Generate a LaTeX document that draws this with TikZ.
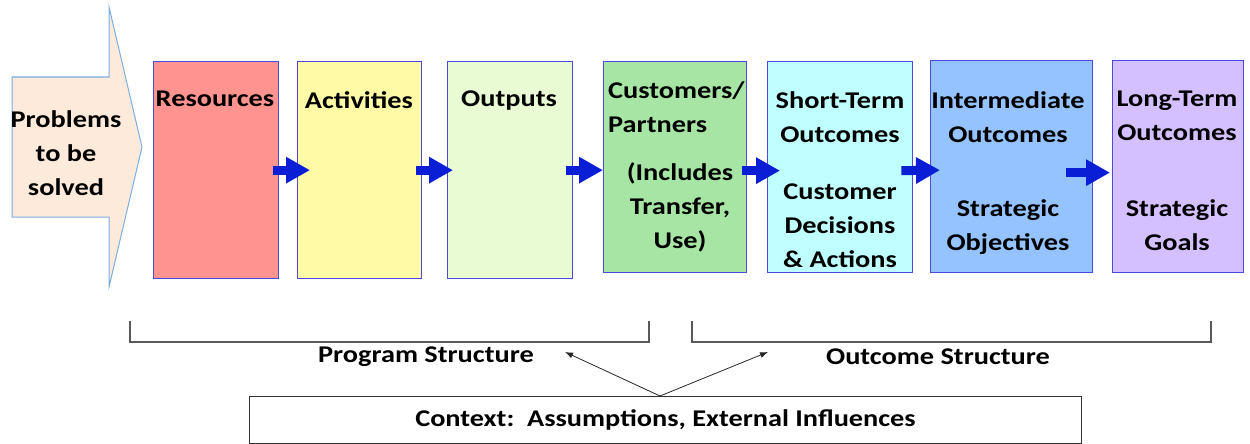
\documentclass[tikz,border=0pt]{standalone}
\usepackage{fontspec}
\setmainfont{Carlito}[FakeStretch=1.18]
\usetikzlibrary{arrows.meta,positioning}

\definecolor{probfill}{HTML}{FDEADA}
\definecolor{probline}{HTML}{7BAEE0}
\definecolor{boxline}{HTML}{4A4ADE}
\definecolor{flowblue}{HTML}{0A1FD5}
\definecolor{resfill}{HTML}{FF9390}
\definecolor{actfill}{HTML}{FFFAA5}
\definecolor{outfill}{HTML}{E9FBD3}
\definecolor{custfill}{HTML}{A6E5A3}
\definecolor{shortfill}{HTML}{C0FFFF}
\definecolor{interfill}{HTML}{94C3FF}
\definecolor{longfill}{HTML}{D5C0FF}

\begin{document}
\begin{tikzpicture}[x=1pt, y=-1pt, >=Latex,
    stage/.style={draw=boxline, line width=1.3pt, inner sep=0pt, anchor=north west},
    lbl/.style={font=\fontsize{24}{34}\selectfont\bfseries, align=center, inner sep=0pt, anchor=north},
    flow/.style={draw=flowblue, line width=9pt, -{Triangle[length=24pt, width=25pt]}},
    bracket/.style={draw=black!65, line width=1.2pt},
    struct/.style={font=\fontsize{24}{28}\selectfont\bfseries, inner sep=0pt},
    pointer/.style={draw=black!85, line width=0.8pt, -{Latex[length=8pt, width=6pt]}}]

\useasboundingbox (0,0) rectangle (1250,444);

% Problem arrow
\draw[fill=probfill, draw=probline, line width=1pt]
    (12,77) -- (109,77) -- (109,7) -- (142,147) -- (109,287) -- (109,217) -- (12,217) -- cycle;
\node[lbl] (prob) at (66,110) {Problems\\to be\\solved};

% Stages
\node[stage, fill=resfill, minimum width=125pt, minimum height=217pt] (res) at (153,61) {};
\node[stage, fill=actfill, minimum width=124pt, minimum height=217pt] (act) at (297,61) {};
\node[stage, fill=outfill, minimum width=125pt, minimum height=217pt] (out) at (447,61) {};
\node[stage, fill=custfill, minimum width=143pt, minimum height=211pt] (cust) at (603,61) {};
\node[stage, fill=shortfill, minimum width=145pt, minimum height=211pt] (short) at (767,61) {};
\node[stage, fill=interfill, minimum width=162pt, minimum height=212pt] (inter) at (930,60) {};
\node[stage, fill=longfill, minimum width=131pt, minimum height=212pt] (long) at (1112,60) {};

% Stage texts
\node[lbl] (resT) at (215,91) {Resources};
\node[lbl] (actT) at (359,91) {Activities};
\node[lbl] (outT) at (509,91) {Outputs};
\node[lbl, align=left, anchor=north west] (custT) at (608,81) {Customers/\\Partners};
\node[lbl] (custU) at (680,162) {(Includes\\Transfer,\\Use)};
\node[lbl] (shortT) at (840,91) {Short-Term\\Outcomes};
\node[lbl] (shortU) at (840,184) {Customer\\Decisions\\\& Actions};
\node[lbl] (interT) at (1008,91) {Intermediate\\Outcomes};
\node[lbl] (interU) at (1008,199) {Strategic\\Objectives};
\node[lbl] (longT) at (1177,91) {Long-Term\\Outcomes};
\node[lbl] (longU) at (1177,199) {Strategic\\Goals};

% Flow arrows
\draw[flow] ([xshift=-6pt]res.east) -- ([xshift=13pt]act.west);
\draw[flow] ([xshift=-6pt]act.east) -- ([xshift=6pt]out.west);
\draw[flow] ([xshift=-7pt]out.east) -- (cust.west |- out.east);
\draw[flow] ([xshift=-5pt, yshift=-3.5pt]cust.east) -- ([xshift=13pt, yshift=-3.5pt]short.west);
\draw[flow] ([xshift=-12pt, yshift=-3.5pt]short.east) -- ([xshift=10pt, yshift=-3.5pt]inter.west);
\draw[flow] ([xshift=-27pt, yshift=-6pt]inter.east) -- ([xshift=-2pt, yshift=-6pt]long.west);

% Structure brackets
\draw[bracket] (130,321) -- (130,342) -- (649,342) -- (649,321);
\draw[bracket] (692,321) -- (692,342) -- (1211,342) -- (1211,321);
\node[struct] (prog) at (426,357) {Program Structure};
\node[struct] (outc) at (938,357) {Outcome Structure};

% Context
\node[draw=black!80, line width=1pt, minimum width=832pt, minimum height=47pt,
      inner sep=0pt, anchor=north west, font=\fontsize{24}{28}\selectfont\bfseries] (ctx) at (249,396)
      {Context:\ \ Assumptions, External Influences};
\coordinate (apex) at (660,396);
\coordinate (progtip) at (565,352);
\coordinate (outctip) at (768,352);
\draw[pointer] (apex) -- (progtip);
\draw[pointer] (apex) -- (outctip);

\end{tikzpicture}
\end{document}
